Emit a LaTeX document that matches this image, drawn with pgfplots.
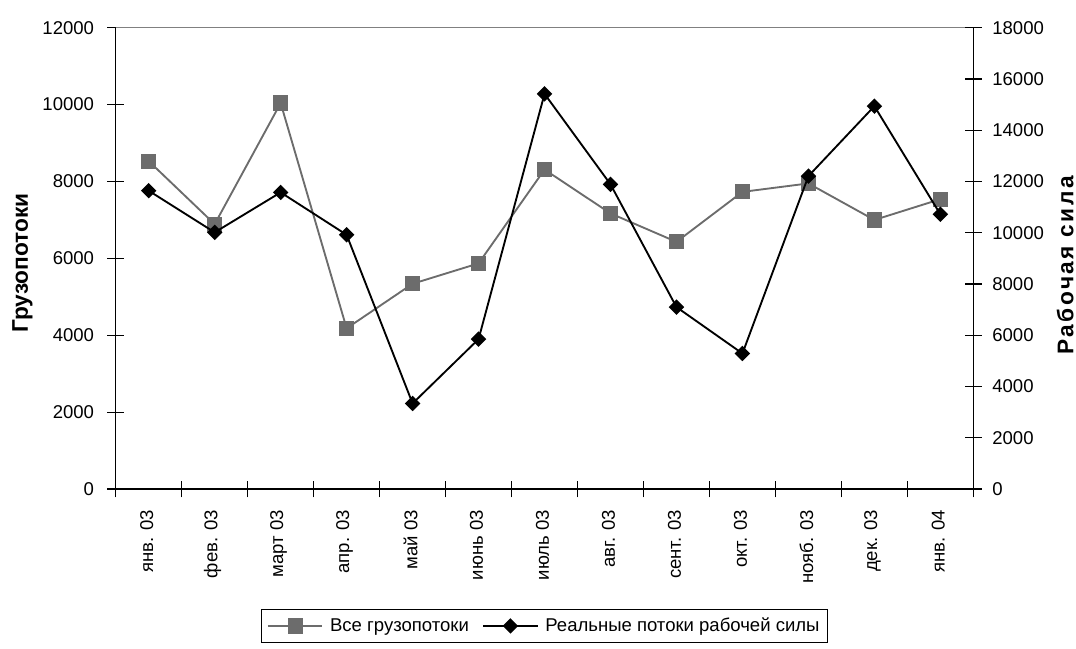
\documentclass[border=0pt]{standalone}
\usepackage{fontspec}
\setmainfont{Liberation Sans}
\usepackage{pgfplots}
\pgfplotsset{compat=1.18}

\definecolor{sergray}{RGB}{108,108,108}
\definecolor{bordergray}{RGB}{128,128,128}

\pgfplotsset{
  base/.style={
    width=643.2pt, height=346pt, scale only axis,
    xmin=0.5, xmax=13.5, ymin=0,
    font=\fontsize{13.9}{16}\selectfont,
    /pgf/number format/assume math mode=true,
    /pgf/number format/1000 sep={},
    scaled y ticks=false,
    tick align=center,
    major tick length=12.5pt,
    minor tick length=12.5pt,
    axis line style={-, line width=1.1pt},
    tick style={line width=0.9pt, black},
  },
  legend image code/.code={
    \draw[mark repeat=2, mark phase=2, #1]
      plot coordinates {(0pt,0pt) (20.5pt,0pt) (41pt,0pt)};
  },
}

\begin{document}
\begin{tikzpicture}
% left axis: all cargo flows
\begin{axis}[base,
  axis x line*=bottom, axis y line*=left,
  ymax=12000, ytick={0,2000,...,12000},
  yticklabel style={xshift=-6.5pt},
  xtick={1,...,13},
  xticklabels={янв. 03, фев. 03, март 03, апр. 03, май 03, июнь 03, июль 03,
               авг. 03, сент. 03, окт. 03, нояб. 03, дек. 03, янв. 04},
  major x tick style={draw=none},
  minor xtick={0.5,1.5,...,13.5},
  xticklabel style={rotate=90, anchor=east, xshift=-6pt, yshift=1.5pt},
  ylabel={\fontsize{17}{20}\selectfont\bfseries Грузопотоки},
  ylabel style={at={([xshift=-70pt]axis description cs:0,0.49)}, anchor=center},
]
\addplot[sergray, line width=1.4pt, mark=square*, mark size=5pt,
         mark options={fill=sergray, draw=sergray}] coordinates {
  (1,8530) (2,6890) (3,10040) (4,4180) (5,5340) (6,5870) (7,8310)
  (8,7170) (9,6430) (10,7730) (11,7950) (12,7000) (13,7540)
};
\draw[bordergray, line width=1pt] (rel axis cs:0,1) -- (rel axis cs:1,1);
\coordinate (SW) at (rel axis cs:0,0);
\coordinate (NE) at (rel axis cs:1,1);
\end{axis}
% right axis: real labour flows
\begin{axis}[base,
  axis x line=none, axis y line*=right,
  ymax=18000, ytick={0,2000,...,18000},
  yticklabel style={xshift=4.5pt},
  ylabel={\fontsize{17}{20}\selectfont\bfseries\addfontfeature{LetterSpace=11}Рабочая сила},
  ylabel style={at={([xshift=68.8pt]axis description cs:1,0.485)}, anchor=center},
  legend columns=2,
  legend style={at={(0.5,-0.26)}, anchor=north, draw=black, line width=0.6pt,
                inner ysep=4.5pt, inner xsep=4pt,
                font=\fontsize{13.9}{16}\selectfont,
                /tikz/every odd column/.append style={column sep=3pt},
                /tikz/every even column/.append style={column sep=8pt}},
]
\addlegendimage{sergray, line width=1.4pt, mark=square*, mark size=5pt,
                mark options={fill=sergray, draw=sergray}}
\addlegendentry{Все грузопотоки}
\addplot[black, line width=1.4pt, mark=square*, mark size=3.4pt,
         mark options={rotate=45, fill=black}] coordinates {
  (1,11640) (2,10015) (3,11575) (4,9920) (5,3340) (6,5850) (7,15420)
  (8,11890) (9,7100) (10,5290) (11,12210) (12,14940) (13,10720)
};
\addlegendentry{Реальные потоки рабочей силы}
\end{axis}
\pgfresetboundingbox
\path ([shift={(-86.8pt,-119.25pt)}]SW) rectangle ([shift={(77pt,20.8pt)}]NE);
\end{tikzpicture}
\end{document}
